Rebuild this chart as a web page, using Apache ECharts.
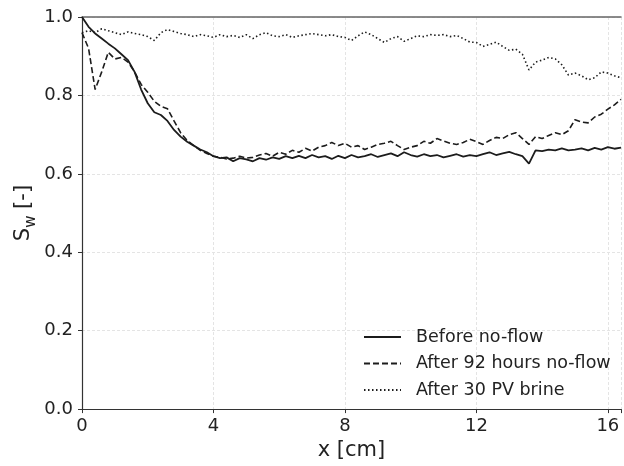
<!DOCTYPE html>
<html>
<head>
<meta charset="utf-8">
<script src="https://cdn.jsdelivr.net/npm/echarts@6/dist/echarts.min.js"></script>
<style>
  html, body { margin: 0; padding: 0; background: #fff; }
  #chart { width: 624px; height: 466px; }
</style>
</head>
<body>
<div id="chart"></div>
<script>
// position along the core [cm]
let xValues = [
  0.0, 0.2, 0.4, 0.6, 0.8, 1.0, 1.2, 1.4, 1.6, 1.8,
  2.0, 2.2, 2.4, 2.6, 2.8, 3.0, 3.2, 3.4, 3.6, 3.8,
  4.0, 4.2, 4.4, 4.6, 4.8, 5.0, 5.2, 5.4, 5.6, 5.8,
  6.0, 6.2, 6.4, 6.6, 6.8, 7.0, 7.2, 7.4, 7.6, 7.8,
  8.0, 8.2, 8.4, 8.6, 8.8, 9.0, 9.2, 9.4, 9.6, 9.8,
  10.0, 10.2, 10.4, 10.6, 10.8, 11.0, 11.2, 11.4, 11.6, 11.8,
  12.0, 12.2, 12.4, 12.6, 12.8, 13.0, 13.2, 13.4, 13.6, 13.8,
  14.0, 14.2, 14.4, 14.6, 14.8, 15.0, 15.2, 15.4, 15.6, 15.8,
  16.0, 16.2, 16.4
]

// Sw before no-flow
let beforeNoFlow = [
  1.000, 0.975, 0.958, 0.945, 0.932, 0.920, 0.905, 0.890, 0.860, 0.815,
  0.780, 0.757, 0.750, 0.735, 0.712, 0.695, 0.682, 0.672, 0.662, 0.655,
  0.645, 0.640, 0.642, 0.632, 0.640, 0.637, 0.632, 0.640, 0.636, 0.642,
  0.638, 0.645, 0.640, 0.646, 0.640, 0.648, 0.642, 0.645, 0.638, 0.646,
  0.640, 0.648, 0.642, 0.645, 0.650, 0.643, 0.648, 0.652, 0.645, 0.655,
  0.648, 0.644, 0.650, 0.645, 0.648, 0.642, 0.646, 0.650, 0.644, 0.648,
  0.645, 0.650, 0.655, 0.648, 0.652, 0.656, 0.650, 0.645, 0.626, 0.660,
  0.658, 0.662, 0.660, 0.665, 0.660, 0.662, 0.665, 0.660, 0.666, 0.662,
  0.668, 0.664, 0.667
]

// Sw after 92 hours no-flow
let after92h = [
  0.960, 0.920, 0.815, 0.860, 0.910, 0.893, 0.897, 0.885, 0.860, 0.828,
  0.808, 0.785, 0.772, 0.766, 0.735, 0.705, 0.685, 0.672, 0.660, 0.652,
  0.645, 0.642, 0.638, 0.640, 0.645, 0.640, 0.642, 0.648, 0.652, 0.645,
  0.655, 0.650, 0.660, 0.655, 0.665, 0.658, 0.668, 0.672, 0.680, 0.672,
  0.678, 0.668, 0.672, 0.662, 0.668, 0.675, 0.678, 0.683, 0.672, 0.662,
  0.668, 0.672, 0.683, 0.678, 0.690, 0.684, 0.678, 0.675, 0.680, 0.688,
  0.682, 0.675, 0.685, 0.693, 0.690, 0.700, 0.705, 0.690, 0.675, 0.695,
  0.690, 0.698, 0.705, 0.700, 0.710, 0.738, 0.732, 0.730, 0.745, 0.752,
  0.765, 0.776, 0.790
]

// Sw after 30 PV brine
let after30PV = [
  0.960, 0.965, 0.960, 0.970, 0.965, 0.960, 0.955, 0.962, 0.958, 0.955,
  0.950, 0.940, 0.960, 0.968, 0.963, 0.958, 0.955, 0.950, 0.955, 0.952,
  0.948, 0.955, 0.950, 0.953, 0.948, 0.955, 0.945, 0.955, 0.960, 0.952,
  0.950, 0.955, 0.948, 0.952, 0.955, 0.958, 0.955, 0.952, 0.955, 0.950,
  0.948, 0.940, 0.952, 0.962, 0.955, 0.945, 0.935, 0.945, 0.950, 0.938,
  0.945, 0.952, 0.950, 0.955, 0.953, 0.955, 0.950, 0.953, 0.945, 0.936,
  0.935, 0.925, 0.930, 0.936, 0.925, 0.915, 0.918, 0.905, 0.865, 0.885,
  0.890, 0.897, 0.893, 0.878, 0.852, 0.857, 0.850, 0.840, 0.845, 0.860,
  0.857, 0.850, 0.845
]

let seriesNames = ['Before no-flow', 'After 92 hours no-flow', 'After 30 PV brine']
let xTicks = [0, 4, 8, 12, 16]

const pairs = (ys) => xValues.map((x, i) => [x, ys[i]])
const lineColor = '#1c1c1c'
const fontFam = 'DejaVu Sans'

let chart = echarts.init(document.getElementById('chart'), null, { renderer: 'canvas' })

let option = {
  animation: false,
  backgroundColor: '#fff',
  grid: { left: 82, right: 0, top: 17, bottom: 52 },
  legend: {
    orient: 'vertical',
    left: 363,
    top: 328,
    padding: 0,
    itemWidth: 37,
    itemHeight: 14,
    itemGap: 8.5,
    itemStyle: { opacity: 0 },
    textStyle: { fontFamily: fontFam, fontSize: 17.5, color: '#222', padding: [0, 0, 0, 10] },
    data: seriesNames
  },
  xAxis: [
    {
      type: 'value',
      min: 0,
      max: 16.4,
      interval: 4,
      name: 'x [cm]',
      nameLocation: 'middle',
      nameGap: 25,
      nameTextStyle: { fontFamily: fontFam, fontSize: 21, color: '#222' },
      axisLine: { lineStyle: { color: '#333', width: 1.2 } },
      axisTick: { show: true, length: 4, lineStyle: { color: '#333' } },
      axisLabel: {
        fontFamily: fontFam, fontSize: 18, color: '#222', margin: 8,
        formatter: (v) => (xTicks.indexOf(v) >= 0 ? String(v) : '')
      },
      splitLine: { show: true, lineStyle: { color: '#e4e4e4', type: [3, 2], width: 1 } }
    },
    {
      // top spine
      type: 'value',
      position: 'top',
      min: 0,
      max: 16.4,
      axisLine: { show: true, lineStyle: { color: '#666', width: 1.5 } },
      axisTick: { show: false },
      axisLabel: { show: false },
      splitLine: { show: false }
    }
  ],
  yAxis: {
    type: 'value',
    min: 0,
    max: 1,
    interval: 0.2,
    name: '{s|S}{w|w}{s| [-]}',
    nameLocation: 'middle',
    nameRotate: 90,
    nameGap: 43,
    nameMoveOverlap: false,
    nameTextStyle: {
      rich: {
        s: { fontFamily: fontFam, fontSize: 21, color: '#222', lineHeight: 30, verticalAlign: 'middle' },
        w: { fontFamily: fontFam, fontSize: 15, color: '#222', lineHeight: 30, verticalAlign: 'bottom' }
      }
    },
    axisLine: { show: true, lineStyle: { color: '#333', width: 1.2 } },
    axisTick: { show: true, length: 4, lineStyle: { color: '#333' } },
    axisLabel: {
      fontFamily: fontFam, fontSize: 18, color: '#222', margin: 9,
      formatter: (v) => v.toFixed(1)
    },
    splitLine: { show: true, lineStyle: { color: '#e4e4e4', type: [3, 2], width: 1 } }
  },
  series: [
    {
      name: seriesNames[0],
      type: 'line',
      showSymbol: false,
      symbol: 'none',
      data: pairs(beforeNoFlow),
      lineStyle: { color: lineColor, width: 1.8, type: 'solid' },
      itemStyle: { color: lineColor }
    },
    {
      name: seriesNames[1],
      type: 'line',
      showSymbol: false,
      symbol: 'none',
      data: pairs(after92h),
      lineStyle: { color: lineColor, width: 1.6, type: [6, 3] },
      itemStyle: { color: lineColor }
    },
    {
      name: seriesNames[2],
      type: 'line',
      showSymbol: false,
      symbol: 'none',
      data: pairs(after30PV),
      lineStyle: { color: lineColor, width: 1.6, type: [1.5, 2.5] },
      itemStyle: { color: lineColor }
    }
  ]
}

chart.setOption(option)
window.addEventListener('resize', () => {
  chart.resize()
})
</script>
</body>
</html>
